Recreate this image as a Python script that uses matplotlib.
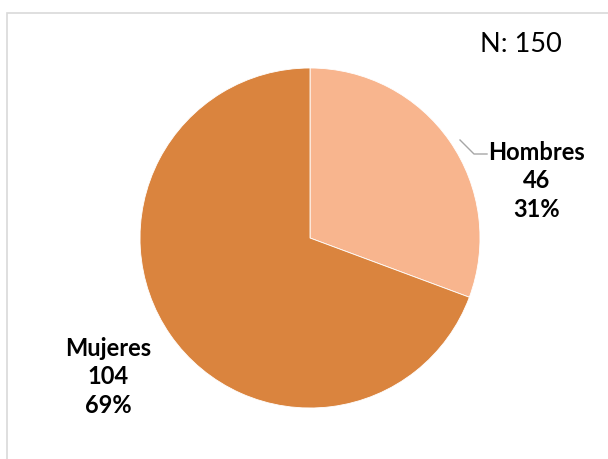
import matplotlib.pyplot as plt
from matplotlib.patches import Rectangle

labels = ["Hombres", "Mujeres"]
counts = [46, 104]
total = 150
colors = ["#F8B58E", "#DA843E"]

plt.rcParams['font.family'] = ['Lato', 'DejaVu Sans']

W, H = 608, 460
fig = plt.figure(figsize=(W / 100, H / 100), dpi=100)
ax = fig.add_axes([0, 0, 1, 1])

# chart frame (only top and left edges are inside the picture)
ax.add_patch(Rectangle((7, -10), W + 20, H - 14 + 10, fill=False,
                       edgecolor='#D9D9D9', linewidth=1.2))

cx, cy, r = 310, H - 239, 170
ax.pie(counts, colors=colors, startangle=90, counterclock=False,
       center=(cx, cy), radius=r, frame=True,
       wedgeprops=dict(edgecolor='white', linewidth=0.6))
ax.set_xlim(0, W)
ax.set_ylim(0, H)
ax.axis('off')

pcts = [round(100 * c / total) for c in counts]

# Hombres label with leader line
ax.plot([460, 474, 487], [H - 141, H - 155, H - 155], color='#A6A6A6', lw=1)
ax.text(537, H - 181, f"{labels[0]}\n{counts[0]}\n{pcts[0]}%", ha='center',
        va='center', fontsize=17, fontweight='bold', linespacing=1.3)

ax.text(108, H - 377, f"{labels[1]}\n{counts[1]}\n{pcts[1]}%", ha='center',
        va='center', fontsize=17, fontweight='bold', linespacing=1.3)

ax.text(521, H - 45, f"N: {total}", ha='center', va='center', fontsize=19.5)

fig.savefig("out.png", dpi=100)
